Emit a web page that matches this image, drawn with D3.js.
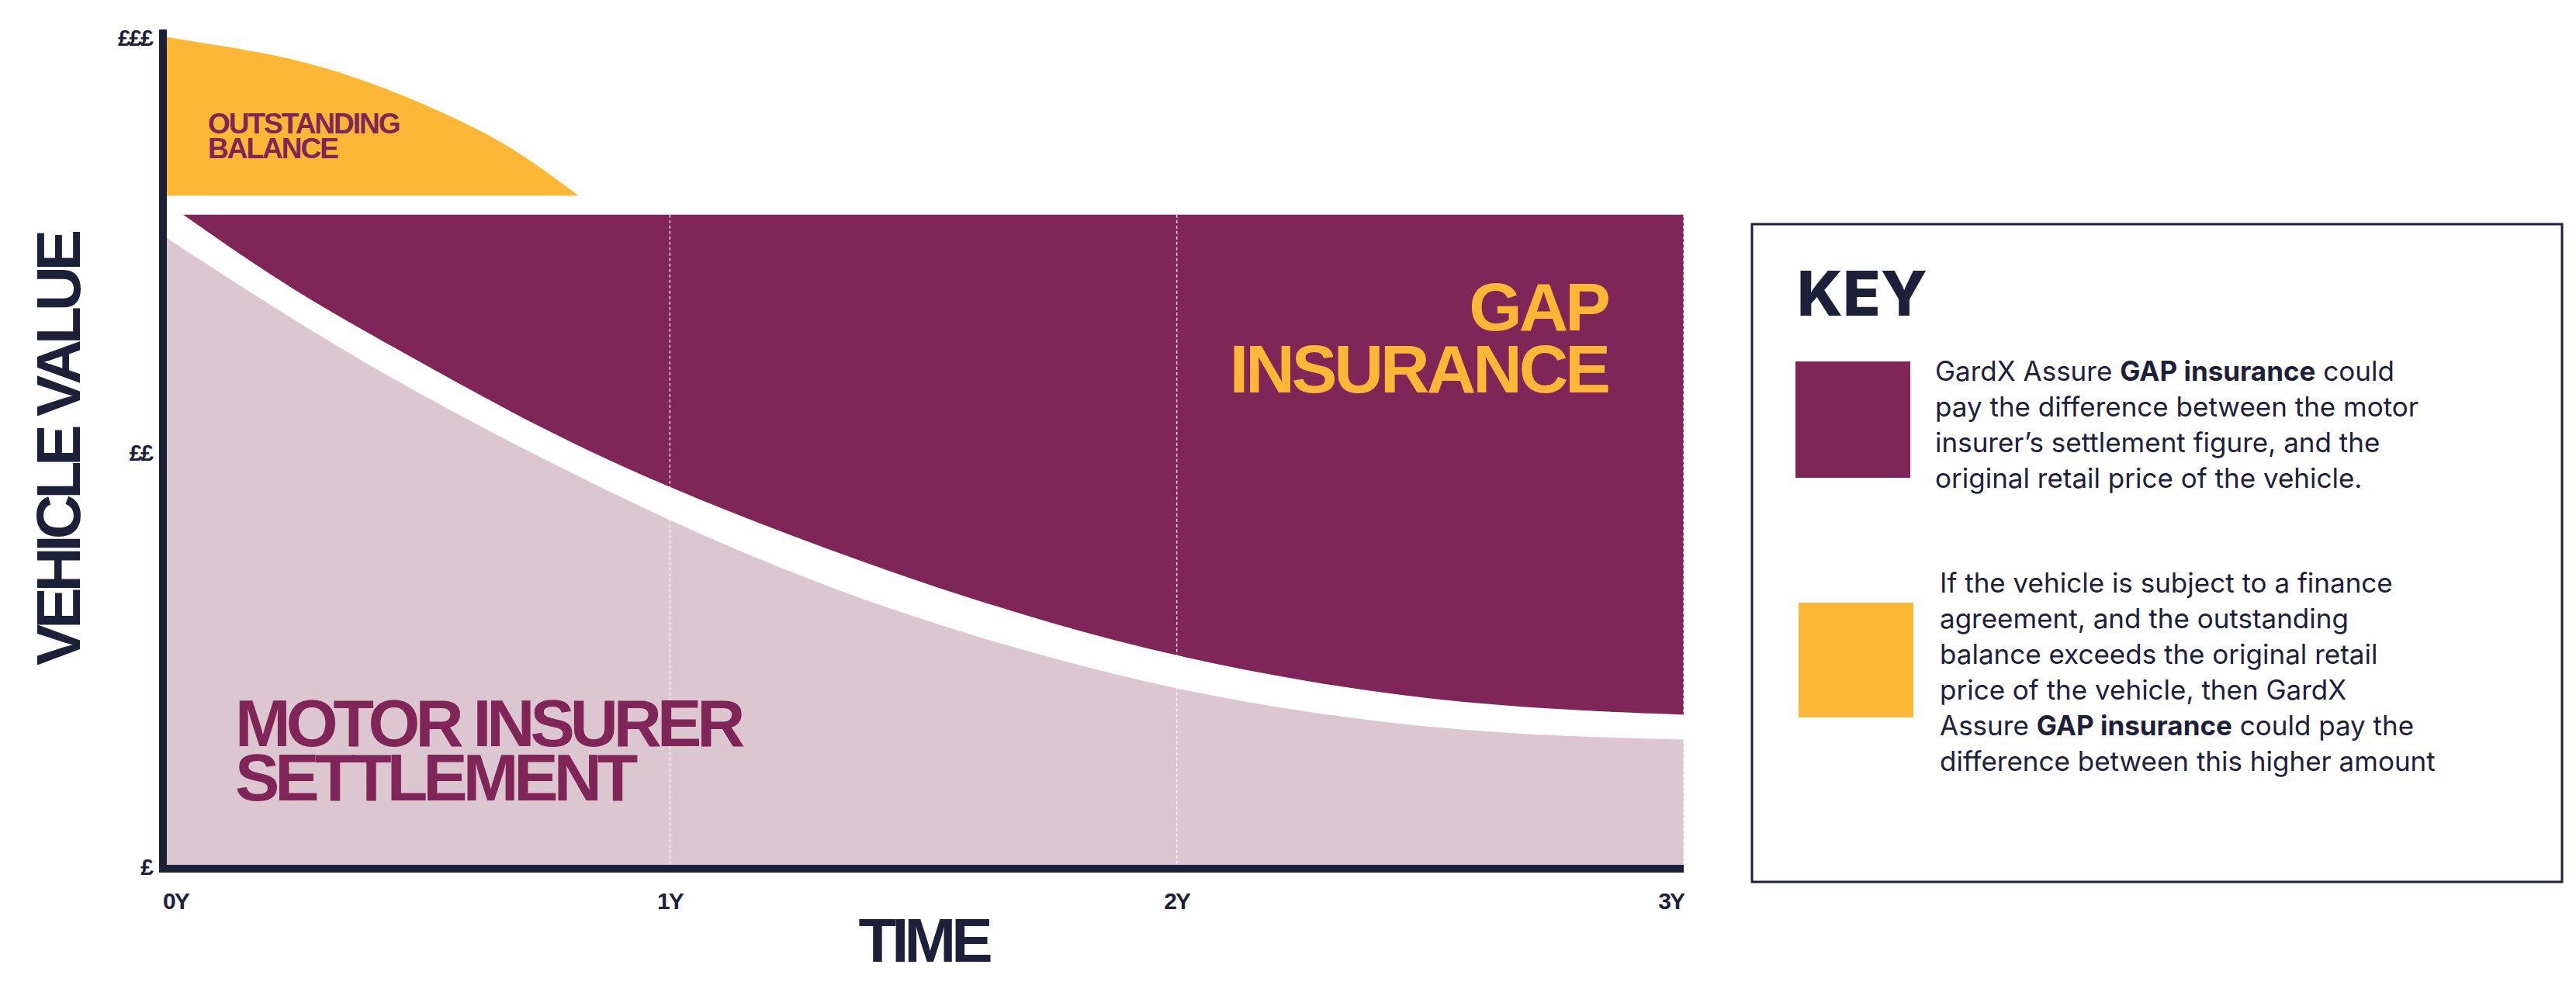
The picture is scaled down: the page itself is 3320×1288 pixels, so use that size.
<!DOCTYPE html><html><head><meta charset="utf-8">
<script src="https://cdn.jsdelivr.net/npm/d3@7"></script>
<style>body{margin:0;background:#fff}svg{display:block}</style></head><body>
<svg id="c" width="3320" height="1288"></svg>
<script>
const xTicks=[0,1,2,3], xTickLabels=["0Y","1Y","2Y","3Y"];
const yTicks=[0,50,100], yTickLabels=["£","££","£££"];
const settleT=[0,0.25,0.5,0.75,1,1.25,1.5,1.75,2,2.25,2.5,2.75,3];
const settleV=[76,66,57,49,41.5,35,29.5,25,21.2,18.5,16.6,15.6,15.2];
const gapT=[0.04,0.25,0.5,0.75,1,1.25,1.5,1.75,2,2.25,2.5,2.75,3];
const gapLow=[78.5,69.5,61,52.5,45.5,39.5,34,29.2,25.2,22.2,20,18.8,18.2];
const gapTop=78.5;
const balT=[0,0.12,0.25,0.38,0.5,0.62,0.72,0.82];
const balV=[100,98.8,97.3,95,92.2,88.8,85.2,80.8];
const balBase=80.8;
const C={purple:"#7F2557",pink:"#DCC7D0",orange:"#FBB735",navy:"#1D2039"};
const svg=d3.select("#c");
const x=d3.scaleLinear().domain([0,3]).range([210,2170]);
const y=d3.scaleLinear().domain([0,100]).range([1116,47]);
const cond="'Liberation Sans',Arial,sans-serif";
svg.append("path").datum(settleT.map((t,i)=>[t,settleV[i]])).attr("fill",C.pink)
 .attr("d",d3.area().x(d=>x(d[0])).y0(y(0)).y1(d=>y(d[1])).curve(d3.curveBasis));
svg.append("path").datum(gapT.map((t,i)=>[t,gapLow[i]])).attr("fill",C.purple)
 .attr("d",d3.area().x(d=>x(d[0])).y0(y(gapTop)).y1(d=>y(d[1])).curve(d3.curveBasis));
svg.append("path").datum(balT.map((t,i)=>[t,balV[i]])).attr("fill",C.orange)
 .attr("d",d3.area().x(d=>x(d[0])).y0(y(balBase)).y1(d=>y(d[1])).curve(d3.curveNatural));
svg.selectAll(".g").data(xTicks.slice(1)).enter().append("line")
 .attr("x1",d=>x(d)).attr("x2",d=>x(d)).attr("y1",y(gapTop)).attr("y2",y(0))
 .attr("stroke","#fff").attr("stroke-width",1.5).attr("stroke-dasharray","4,3").attr("opacity",0.8);
svg.append("line").attr("x1",x(0)).attr("x2",x(0)).attr("y1",38).attr("y2",y(0)+8).attr("stroke",C.navy).attr("stroke-width",10);
svg.append("line").attr("x1",x(0)-5).attr("x2",x(3)).attr("y1",y(0)+4).attr("y2",y(0)+4).attr("stroke",C.navy).attr("stroke-width",10);
svg.selectAll(".xl").data(xTicks).enter().append("text").attr("x",d=>x(d)).attr("y",1172)
 .attr("text-anchor",(d,i)=>i==0?"start":i==3?"end":"middle").attr("font-family",cond).attr("font-weight",700)
 .attr("font-size",30).attr("letter-spacing",-2).attr("fill",C.navy).text((d,i)=>xTickLabels[i]);
svg.selectAll(".yl").data(yTicks).enter().append("text").attr("x",196).attr("y",d=>y(d)+12)
 .attr("text-anchor","end").attr("font-family",cond).attr("font-weight",700).attr("letter-spacing",-2)
 .attr("font-size",30).attr("fill",C.navy).text((d,i)=>yTickLabels[i]);
svg.append("text").attr("x",(x(0)+x(3))/2).attr("y",1240).attr("text-anchor","middle").attr("font-family",cond)
 .attr("font-weight",700).attr("font-size",80).attr("letter-spacing",-6).attr("fill",C.navy).text("TIME");
svg.append("text").attr("transform","translate(103,580) rotate(-90)").attr("text-anchor","middle").attr("font-family",cond)
 .attr("font-weight",700).attr("font-size",80).attr("letter-spacing",-6).attr("fill",C.navy).text("VEHICLE VALUE");
function lines(tx,ty,arr,size,col,anchor,lh,ls){const t=svg.append("text").attr("font-family",cond).attr("font-weight",700)
 .attr("font-size",size).attr("fill",col).attr("text-anchor",anchor).attr("letter-spacing",ls);
 arr.forEach((s,i)=>t.append("tspan").attr("x",tx).attr("y",ty+i*lh).text(s));}
lines(268,172,["OUTSTANDING","BALANCE"],37,C.purple,"start",32,-2);
lines(2072,426,["GAP","INSURANCE"],88,C.orange,"end",80,-4);
lines(303,962,["MOTOR INSURER","SETTLEMENT"],86,C.purple,"start",70,-6);
svg.append("rect").attr("x",2258).attr("y",289).attr("width",1044).attr("height",848).attr("fill","none").attr("stroke",C.navy).attr("stroke-width",3);
svg.append("text").attr("x",2316).attr("y",407).attr("font-family","Inter,sans-serif").attr("font-weight",800).attr("font-size",80).attr("fill",C.navy).text("KEY");
svg.append("rect").attr("x",2314).attr("y",466).attr("width",148).attr("height",150).attr("fill",C.purple);
svg.append("rect").attr("x",2318).attr("y",777).attr("width",148).attr("height",148).attr("fill",C.orange);
function para(tx,ty,arr){arr.forEach((segs,i)=>{const t=svg.append("text").attr("x",tx).attr("y",ty+i*46)
 .attr("font-family","Inter,sans-serif").attr("font-size",35).attr("fill",C.navy);
 segs.forEach(s=>t.append("tspan").attr("font-weight",s[1]?700:400).text(s[0]));});}
para(2494,491,[[["GardX Assure "],["GAP insurance",1],[" could"]],[["pay the difference between the motor"]],[["insurer’s settlement figure, and the"]],[["original retail price of the vehicle."]]]);
para(2500,764,[[["If the vehicle is subject to a finance"]],[["agreement, and the outstanding"]],[["balance exceeds the original retail"]],[["price of the vehicle, then GardX"]],[["Assure "],["GAP insurance",1],[" could pay the"]],[["difference between this higher amount"]]]);
</script></body></html>
